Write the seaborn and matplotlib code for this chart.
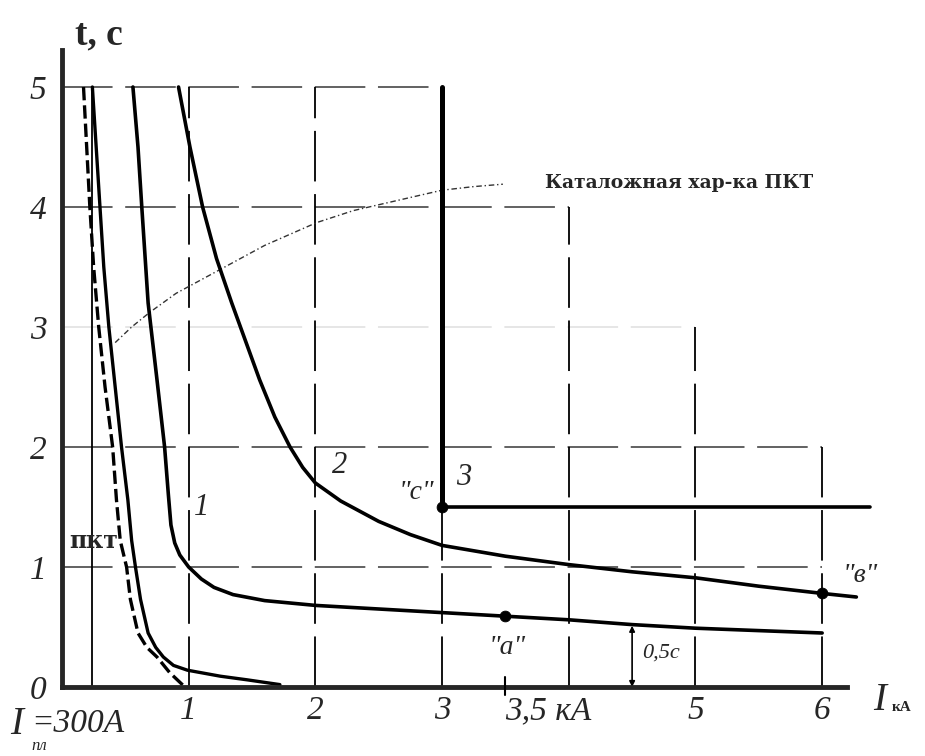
import numpy as np
import pandas as pd
import matplotlib.pyplot as plt
import seaborn as sns

# --- кривые (I, кА ; t, с) ---
pkt_I = [0.24, 0.27, 0.30, 0.33, 0.37, 0.42, 0.47, 0.52, 0.55, 0.58, 0.62, 0.68,
         0.74, 0.80, 0.88, 0.99, 1.25, 1.46, 1.72]
pkt_t = [5.0, 4.5, 4.0, 3.5, 3.0, 2.5, 2.0, 1.56, 1.22, 1.0, 0.73, 0.45,
         0.33, 0.25, 0.18, 0.14, 0.09, 0.06, 0.02]

pkt_dash_I = [0.17, 0.195, 0.22, 0.25, 0.29, 0.34, 0.40, 0.43, 0.46, 0.51, 0.54,
              0.60, 0.67, 0.75, 0.85, 0.93, 0.97]
pkt_dash_t = [5.0, 4.5, 4.0, 3.5, 3.0, 2.5, 2.0, 1.56, 1.22, 1.0, 0.73,
              0.45, 0.33, 0.25, 0.12, 0.04, 0.0]

curve1_I = [0.56, 0.60, 0.63, 0.68, 0.75, 0.81, 0.84, 0.86, 0.89, 0.93, 1.0, 1.1,
            1.2, 1.35, 1.6, 2.0, 2.5, 3.0, 3.5, 4.0, 4.5, 5.0, 5.5, 6.0]
curve1_t = [5.0, 4.5, 4.0, 3.2, 2.56, 2.0, 1.6, 1.35, 1.2, 1.1, 1.0, 0.9,
            0.83, 0.77, 0.72, 0.68, 0.65, 0.62, 0.59, 0.56, 0.52, 0.49, 0.47, 0.45]

curve2_I = [0.92, 1.01, 1.11, 1.22, 1.34, 1.45, 1.56, 1.68, 1.8, 1.9, 2.0, 2.2,
            2.5, 2.75, 3.0, 3.5, 4.0, 4.5, 5.0, 5.5, 6.0, 6.27]
curve2_t = [5.0, 4.5, 4.0, 3.57, 3.2, 2.88, 2.56, 2.25, 2.0, 1.83, 1.70, 1.55,
            1.38, 1.27, 1.18, 1.09, 1.02, 0.96, 0.91, 0.84, 0.78, 0.75]

curve3_I = [3.0, 3.0, 6.38]
curve3_t = [5.0, 1.5, 1.5]

catalog_I = [0.42, 0.55, 0.69, 0.9, 1.25, 1.6, 2.01, 2.3, 2.67, 3.0, 3.25, 3.48]
catalog_t = [2.87, 3.0, 3.12, 3.28, 3.48, 3.68, 3.87, 3.97, 4.06, 4.14, 4.17, 4.19]

# точки "с", "а", "в"
pts_I = [3.0, 3.5, 6.0]
pts_t = [1.5, 0.59, 0.78]
pts_lbl = ['"с"', '"а"', '"в"']

# сетка-"лесенка"
hgrid_t = [1, 2, 3, 4, 5]
hgrid_end = [6, 6, 5, 4, 3]
vgrid_I = [1, 2, 3, 4, 5, 6]
vgrid_top = [5, 5, 1.5, 4, 3, 2]
I_pl = 0.24

yticks = [0, 1, 2, 3, 4, 5]
xticks = [1, 2, 3, 3.5, 5, 6]
xtick_labels = ["1", "2", "3", "3,5 кА", "5", "6"]

sns.set_style("white")
plt.rcParams['font.family'] = ['Liberation Serif', 'DejaVu Serif']

fig = plt.figure(figsize=(9.25, 7.56), dpi=100)
ax = fig.add_axes([0.0533, 0.04365, 0.9040, 0.93651])
ax.set_xlim(-0.1, 6.5)
ax.set_ylim(-0.3, 5.6)

# сетка
for t, end in zip(hgrid_t, hgrid_end):
    col = '#e4e4e4' if t == 3 else '#555555'
    ax.plot([0, end], [t, t], color=col, lw=1.3, linestyle=(0, (28, 7)), zorder=1)
for x, top in zip(vgrid_I, vgrid_top):
    ax.plot([x, x], [0, top], color='black', lw=1.3, linestyle=(0, (28, 7)), zorder=1)
ax.plot([I_pl, I_pl], [0, 5], color='black', lw=1.3, zorder=1)

# характеристики
sns.lineplot(x=pkt_dash_I, y=pkt_dash_t, sort=False, estimator=None, ax=ax,
             color='black', lw=2.4, linestyle=(0, (4, 1.5)), zorder=3)
sns.lineplot(x=pkt_I, y=pkt_t, sort=False, estimator=None, ax=ax,
             color='black', lw=2.4, zorder=3)
sns.lineplot(x=curve1_I, y=curve1_t, sort=False, estimator=None, ax=ax,
             color='black', lw=2.6, zorder=3)
sns.lineplot(x=curve2_I, y=curve2_t, sort=False, estimator=None, ax=ax,
             color='black', lw=2.6, zorder=3)
ax.plot(curve3_I[:2], curve3_t[:2], color='black', lw=3.6, zorder=3)
ax.plot(curve3_I[1:], curve3_t[1:], color='black', lw=2.6, zorder=3)
sns.lineplot(x=catalog_I, y=catalog_t, sort=False, estimator=None, ax=ax,
             color='#333333', lw=1.0, linestyle=(0, (4, 2, 1, 2)), zorder=2)
sns.scatterplot(x=pts_I, y=pts_t, ax=ax, color='black', s=60, zorder=4,
                edgecolor='black')

# оси
for side in ['top', 'right']:
    ax.spines[side].set_visible(False)
ax.spines['left'].set_position(('data', 0))
ax.spines['bottom'].set_position(('data', 0))
ax.spines['left'].set_bounds(0, 5.31)
ax.spines['bottom'].set_bounds(0, 6.2)
ax.spines['left'].set_linewidth(3.5)
ax.spines['bottom'].set_linewidth(3.5)
ax.spines['left'].set_zorder(5)
ax.spines['bottom'].set_zorder(5)

ax.set_yticks(yticks)
ax.set_yticklabels([str(v) for v in yticks], fontstyle='italic', fontsize=24)
ax.set_xticks(xticks)
ax.set_xticklabels(xtick_labels, fontstyle='italic', fontsize=24)
for lab in ax.get_xticklabels():
    if lab.get_text().startswith("3,5"):
        lab.set_ha('left')
ax.tick_params(axis='both', which='major', length=0)
ax.tick_params(axis='y', pad=11)
ax.tick_params(axis='x', pad=6)
ax.set_xlabel('')
ax.set_ylabel('')
# засечка у 3,5 кА
ax.plot([3.5, 3.5], [-0.07, 0.08], color='black', lw=1.5, zorder=6, clip_on=False)

# подписи
ax.text(0.1, 5.43, "t, с", fontsize=27, fontweight='bold', va='center', ha='left')
ax.text(6.4, -0.11, "I", fontsize=28, fontstyle='italic', va='center', ha='left')
ax.text(6.55, -0.17, "кА", fontsize=11, fontweight='bold', va='center', ha='left',
        clip_on=False)
fig.text(0.011, 0.042, "I", fontsize=28, fontstyle='italic', va='center', ha='left')
fig.text(0.034, 0.013, "пл", fontsize=12, fontstyle='italic', va='center', ha='left')
fig.text(0.034, 0.042, "=300А", fontsize=24, fontstyle='italic', va='center', ha='left')

ax.text(3.81, 4.2, "Каталожная хар-ка ПКТ", fontsize=13.5, fontweight='bold',
        family='DejaVu Serif', va='center', ha='left')
ax.text(0.06, 1.22, "пкт", fontsize=17, fontweight='bold', family='DejaVu Serif',
        va='center', ha='left')
ax.text(1.1, 1.5, "1", fontsize=22, fontstyle='italic', va='center', ha='center')
ax.text(2.19, 1.85, "2", fontsize=22, fontstyle='italic', va='center', ha='center')
ax.text(3.17, 1.75, "3", fontsize=22, fontstyle='italic', va='center', ha='center')
ax.text(2.8, 1.62, pts_lbl[0], fontsize=20, fontstyle='italic', va='center', ha='center')
ax.text(3.51, 0.33, pts_lbl[1], fontsize=20, fontstyle='italic', va='center', ha='center')
ax.text(6.3, 0.93, pts_lbl[2], fontsize=20, fontstyle='italic', va='center', ha='center')

ax.annotate('', xy=(4.5, 0.51), xytext=(4.5, 0.0),
            arrowprops=dict(arrowstyle='<|-|>', lw=1.2, color='black',
                            mutation_scale=8, shrinkA=0, shrinkB=0))
ax.text(4.58, 0.28, "0,5с", fontsize=16, fontstyle='italic', va='center', ha='left')

fig.savefig("out.png", dpi=100)
